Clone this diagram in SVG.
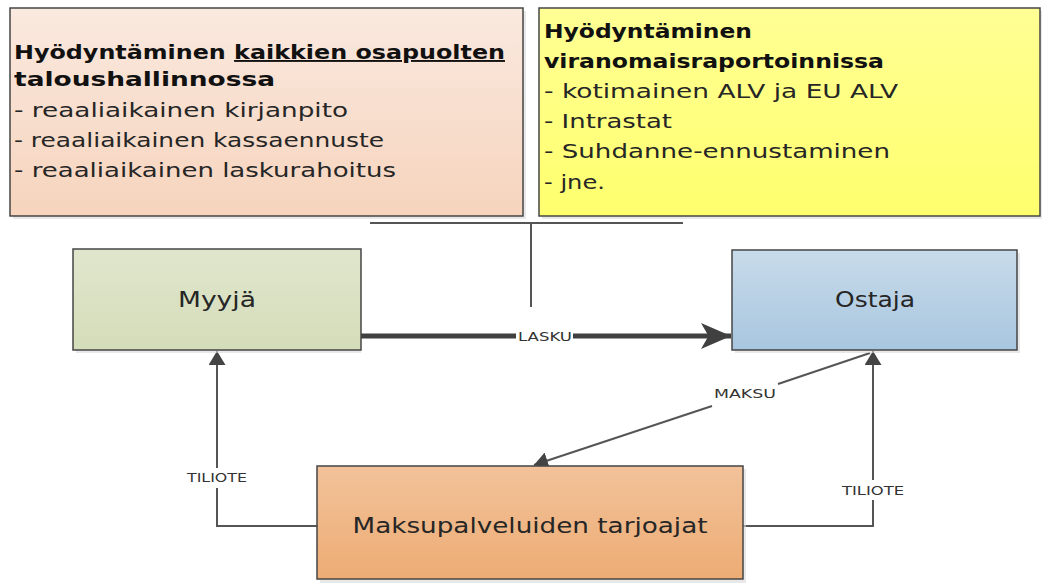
<svg xmlns="http://www.w3.org/2000/svg" width="1042" height="583" viewBox="0 0 1042 583">
<style>
.box{stroke:#454545;stroke-width:1.5}
.sh{fill:#d9d9d9;opacity:0.6}
.t{font-family:"DejaVu Sans","Open Sans",sans-serif;font-size:19px;fill:#262626}
.tb{font-family:"DejaVu Sans","Open Sans",sans-serif;font-size:19px;font-weight:bold;fill:#111}
.n{font-family:"DejaVu Sans","Open Sans",sans-serif;font-size:22px;fill:#262626;text-anchor:middle}
.el{font-family:"DejaVu Sans","Liberation Sans",sans-serif;font-size:13px;fill:#333;text-anchor:middle}
.ln{fill:none;stroke:#555;stroke-width:2}
</style>
<defs>
<linearGradient id="gPeach" x1="0" y1="0" x2="0" y2="1"><stop offset="0" stop-color="#fae9df"/><stop offset="1" stop-color="#f6d4bd"/></linearGradient>
<linearGradient id="gYellow" x1="0" y1="0" x2="0" y2="1"><stop offset="0" stop-color="#ffff94"/><stop offset="1" stop-color="#ffff6e"/></linearGradient>
<linearGradient id="gGreen" x1="0" y1="0" x2="0" y2="1"><stop offset="0" stop-color="#e0e6cd"/><stop offset="1" stop-color="#d4ddb9"/></linearGradient>
<linearGradient id="gBlue" x1="0" y1="0" x2="0" y2="1"><stop offset="0" stop-color="#c8dbea"/><stop offset="1" stop-color="#a8c6df"/></linearGradient>
<linearGradient id="gOrange" x1="0" y1="0" x2="0" y2="1"><stop offset="0" stop-color="#f2c29a"/><stop offset="1" stop-color="#edac74"/></linearGradient>
<marker id="ah" viewBox="0 0 10 10" refX="10" refY="5" markerWidth="14" markerHeight="17" markerUnits="userSpaceOnUse" orient="auto" preserveAspectRatio="none"><path d="M0,0 L10,5 L0,10 Z" fill="#444"/></marker>
<marker id="ahBig" viewBox="0 0 10 10" refX="10" refY="5" markerWidth="30" markerHeight="26" markerUnits="userSpaceOnUse" orient="auto" preserveAspectRatio="none"><path d="M0,0 L10,5 L0,10 L2.5,5 Z" fill="#404040"/></marker>
</defs>

<g id="connectors">
  <path class="ln" d="M370,223 H683 M531,223 V307" stroke-width="1.5"/>
  <line x1="361" y1="336" x2="516" y2="336" stroke="#404040" stroke-width="5"/>
  <line x1="573" y1="336" x2="731" y2="336" stroke="#404040" stroke-width="5" marker-end="url(#ahBig)"/>
  <text class="el" x="545" y="341" textLength="54" lengthAdjust="spacingAndGlyphs">LASKU</text>
  <line class="ln" x1="870" y1="353" x2="778" y2="384" stroke-width="1.5"/>
  <line class="ln" x1="712" y1="406" x2="534" y2="465" stroke-width="1.5" marker-end="url(#ah)"/>
  <text class="el" x="745" y="398" textLength="62" lengthAdjust="spacingAndGlyphs">MAKSU</text>
  <path class="ln" d="M317,526 H217 V488" />
  <line class="ln" x1="217" y1="468" x2="217" y2="351" marker-end="url(#ah)"/>
  <text class="el" x="217" y="482" textLength="60" lengthAdjust="spacingAndGlyphs">TILIOTE</text>
  <path class="ln" d="M743,526 H873 V500"/>
  <line class="ln" x1="873" y1="480" x2="873" y2="351" marker-end="url(#ah)"/>
  <text class="el" x="873" y="495" textLength="62" lengthAdjust="spacingAndGlyphs">TILIOTE</text>
</g>

<g id="taloushallinto">
  <rect class="sh" x="13" y="11" width="513" height="208"/>
  <rect class="box" x="10" y="8" width="513" height="208" fill="url(#gPeach)"/>
  <text class="tb" x="14" y="59" textLength="491" lengthAdjust="spacingAndGlyphs">Hyödyntäminen <tspan text-decoration="underline">kaikkien osapuolten</tspan></text>
  <text class="tb" x="14" y="86" textLength="261" lengthAdjust="spacingAndGlyphs">taloushallinnossa</text>
  <text class="t" x="14" y="117" textLength="334" lengthAdjust="spacingAndGlyphs">- reaaliaikainen kirjanpito</text>
  <text class="t" x="14" y="147" textLength="370" lengthAdjust="spacingAndGlyphs">- reaaliaikainen kassaennuste</text>
  <text class="t" x="14" y="177" textLength="382" lengthAdjust="spacingAndGlyphs">- reaaliaikainen laskurahoitus</text>
</g>

<g id="viranomaisraportointi">
  <rect class="sh" x="542" y="11" width="501" height="208"/>
  <rect class="box" x="539" y="8" width="501" height="208" fill="url(#gYellow)"/>
  <text class="tb" x="544" y="38" textLength="208" lengthAdjust="spacingAndGlyphs">Hyödyntäminen</text>
  <text class="tb" x="544" y="68" textLength="340" lengthAdjust="spacingAndGlyphs">viranomaisraportoinnissa</text>
  <text class="t" x="544" y="98" textLength="354" lengthAdjust="spacingAndGlyphs">- kotimainen ALV ja EU ALV</text>
  <text class="t" x="544" y="128" textLength="128" lengthAdjust="spacingAndGlyphs">- Intrastat</text>
  <text class="t" x="544" y="158" textLength="346" lengthAdjust="spacingAndGlyphs">- Suhdanne-ennustaminen</text>
  <text class="t" x="544" y="189" textLength="61" lengthAdjust="spacingAndGlyphs">- jne.</text>
</g>

<g id="myyja">
  <rect class="sh" x="76" y="252" width="285" height="101"/>
  <rect class="box" x="73" y="249" width="288" height="101" fill="url(#gGreen)"/>
  <text class="n" x="217" y="307" textLength="78" lengthAdjust="spacingAndGlyphs">Myyjä</text>
</g>

<g id="ostaja">
  <rect class="sh" x="735" y="253" width="285" height="100"/>
  <rect class="box" x="732" y="250" width="285" height="100" fill="url(#gBlue)"/>
  <text class="n" x="875" y="307" textLength="80" lengthAdjust="spacingAndGlyphs">Ostaja</text>
</g>

<g id="maksupalvelut">
  <rect class="sh" x="320" y="469" width="426" height="114"/>
  <rect class="box" x="317" y="466" width="426" height="113" fill="url(#gOrange)"/>
  <text class="n" x="530" y="533" textLength="355" lengthAdjust="spacingAndGlyphs">Maksupalveluiden tarjoajat</text>
</g>
</svg>
